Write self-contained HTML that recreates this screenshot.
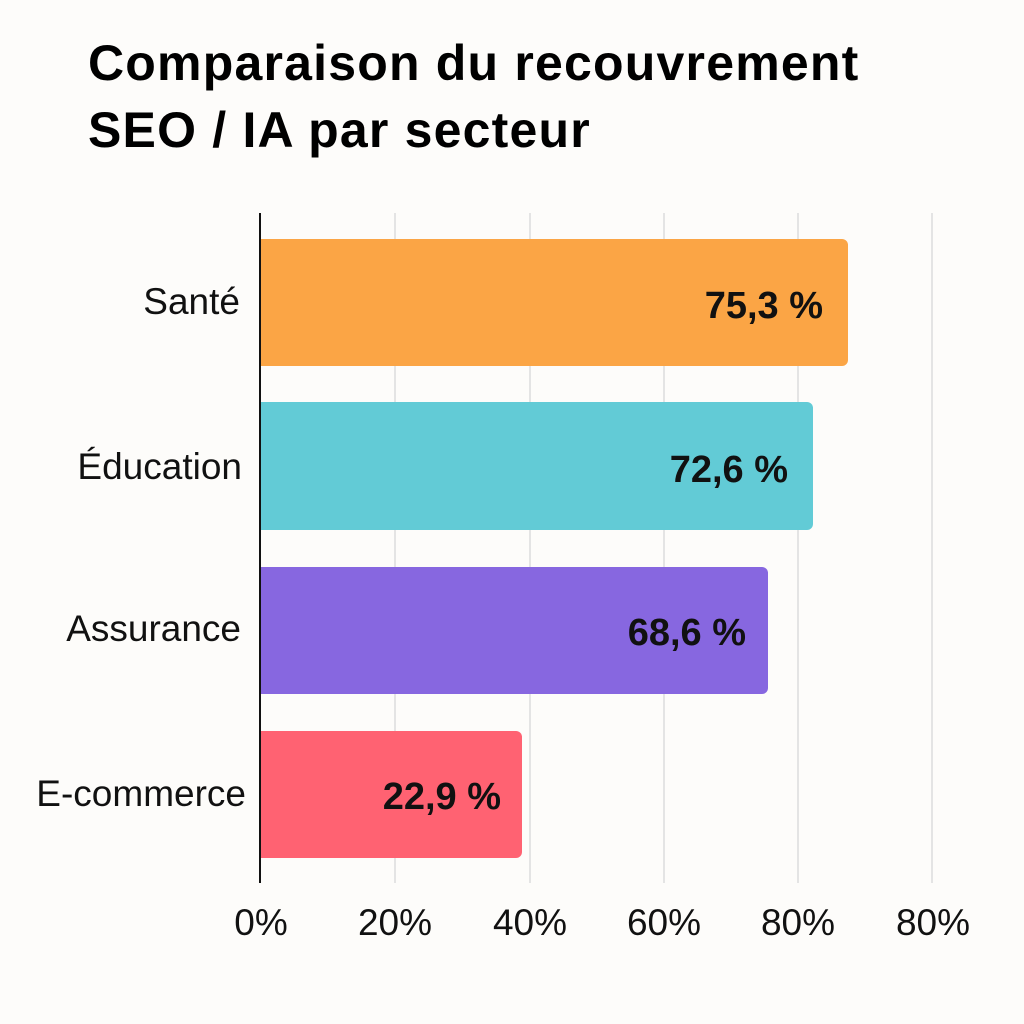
<!DOCTYPE html>
<html><head><meta charset="utf-8"><style>
html,body{margin:0;padding:0;background:#fdfcfa;}
svg{display:block}
</style></head><body>
<svg width="1024" height="1024" xmlns="http://www.w3.org/2000/svg">
<rect width="1024" height="1024" fill="#fdfcfa"/>
<g font-family="Liberation Sans, DejaVu Sans, sans-serif" font-weight="bold" font-size="50" fill="#000" letter-spacing="1.2">
<text x="88" y="80">Comparaison du recouvrement</text>
<text x="88" y="147">SEO / IA par secteur</text>
</g>
<g stroke="#dcdcdc" stroke-width="1.5">
<line x1="395" y1="213" x2="395" y2="883"/>
<line x1="530" y1="213" x2="530" y2="883"/>
<line x1="664" y1="213" x2="664" y2="883"/>
<line x1="798" y1="213" x2="798" y2="883"/>
<line x1="932" y1="213" x2="932" y2="883"/>
</g>
<path d="M260 239 H842 a6 6 0 0 1 6 6 V360 a6 6 0 0 1 -6 6 H260 Z" fill="#fba545"/>
<path d="M260 402 H807 a6 6 0 0 1 6 6 V524 a6 6 0 0 1 -6 6 H260 Z" fill="#62cbd6"/>
<path d="M260 567 H762 a6 6 0 0 1 6 6 V688 a6 6 0 0 1 -6 6 H260 Z" fill="#8767e0"/>
<path d="M260 731 H516 a6 6 0 0 1 6 6 V852 a6 6 0 0 1 -6 6 H260 Z" fill="#ff6272"/>
<line x1="260" y1="213" x2="260" y2="883" stroke="#111" stroke-width="2"/>
<g font-family="Liberation Sans, DejaVu Sans, sans-serif" font-size="37" fill="#111" text-anchor="end">
<text x="240" y="314">Santé</text>
<text x="242" y="479">Éducation</text>
<text x="241" y="641">Assurance</text>
<text x="246" y="806">E-commerce</text>
</g>
<g font-family="Liberation Sans, DejaVu Sans, sans-serif" font-weight="bold" font-size="38" fill="#111" text-anchor="end">
<text x="823" y="318">75,3 %</text>
<text x="788" y="482">72,6 %</text>
<text x="746" y="645">68,6 %</text>
<text x="501" y="809">22,9 %</text>
</g>
<g font-family="Liberation Sans, DejaVu Sans, sans-serif" font-size="37" fill="#111" text-anchor="middle">
<text x="261" y="935">0%</text>
<text x="395" y="935">20%</text>
<text x="530" y="935">40%</text>
<text x="664" y="935">60%</text>
<text x="798" y="935">80%</text>
<text x="933" y="935">80%</text>
</g>
</svg>
</body></html>
